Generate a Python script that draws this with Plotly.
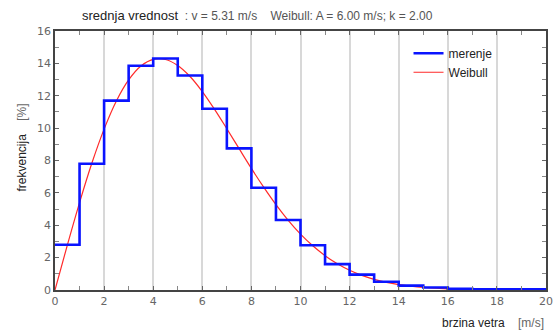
import plotly.graph_objects as go

# Measured histogram (bin edges 0..20 m/s, frequency %)
bin_edges = list(range(0, 21))
merenje = [2.8, 7.8, 11.7, 13.85, 14.3, 13.25, 11.2, 8.75, 6.32, 4.32,
           2.76, 1.6, 0.95, 0.51, 0.27, 0.15, 0.08, 0.04, 0.04, 0.04]

# Weibull curve
weibull_v = [0, 0.5, 1, 1.5, 2, 2.5, 3, 3.5, 4, 4.5, 5, 5.5, 6, 6.5, 7, 7.5,
             8, 8.5, 9, 9.5, 10, 10.5, 11, 11.5, 12, 12.5, 13, 13.5, 14, 14.5,
             15, 16, 17, 18, 19, 20]
weibull_f = [0, 2.76, 5.40, 7.83, 9.94, 11.68, 12.98, 13.84, 14.25, 14.24,
             13.87, 13.19, 12.26, 11.16, 9.96, 8.73, 7.51, 6.35, 5.27, 4.30,
             3.45, 2.73, 2.12, 1.62, 1.22, 0.905, 0.661, 0.474, 0.336, 0.234,
             0.161, 0.072, 0.031, 0.012, 0.005, 0.002]

x_ticks = list(range(0, 21, 2))
y_ticks = list(range(0, 17, 2))

fig = go.Figure()
fig.add_trace(go.Scatter(
    x=weibull_v, y=weibull_f, mode="lines", name="Weibull",
    line=dict(color="#ff2a2a", width=1.2, shape="spline"),
))
fig.add_trace(go.Scatter(
    x=bin_edges, y=merenje + [merenje[-1]], mode="lines", name="merenje",
    line=dict(color="#0a14ff", width=2.6, shape="hv"),
))

axis_common = dict(
    showline=True, linecolor="#444444", linewidth=1.5, mirror="ticks",
    ticks="inside", ticklen=4, tickcolor="#666666", tickwidth=1,
    tickfont=dict(family="DejaVu Sans", size=11, color="#666666"),
    zeroline=False,
)

fig.update_xaxes(
    range=[0, 20], tickvals=x_ticks, showgrid=True, gridcolor="#d8d8d8",
    gridwidth=1.5,
    minor=dict(dtick=1, ticks="inside", ticklen=4, tickcolor="#888888",
               showgrid=False),
    automargin=False,
    **axis_common,
)
fig.update_yaxes(
    range=[0, 16], tickvals=y_ticks, showgrid=False,
    minor=dict(dtick=1, ticks="inside", ticklen=4, tickcolor="#888888",
               showgrid=False),
    automargin=False,
    **axis_common,
)

fig.update_layout(
    width=554, height=330,
    margin=dict(l=55, r=8, t=31, b=40),
    paper_bgcolor="white", plot_bgcolor="white",
    showlegend=True,
    legend=dict(x=0.72, y=0.97, xanchor="left", yanchor="top",
                traceorder="reversed", bgcolor="rgba(0,0,0,0)",
                font=dict(family="Liberation Sans", size=12, color="#222222"),
                tracegroupgap=2),
    annotations=[
        dict(text="<span style='font-size:13px;color:#222'>srednja vrednost</span>"
                  "<span style='color:#555'>  : v = 5.31 m/s    Weibull: A = 6.00 m/s; k = 2.00</span>",
             xref="paper", yref="paper", x=0.05, y=1.0, yshift=16,
             xanchor="left", yanchor="middle", showarrow=False,
             font=dict(family="Liberation Sans", size=12, color="#555555")),
        dict(text="<span style='color:#222'>frekvencija</span>"
                  "<span style='color:#666'>    [%]</span>",
             xref="paper", yref="paper", x=0, xshift=-33, y=0.55,
             xanchor="center", yanchor="middle", textangle=-90, showarrow=False,
             font=dict(family="Liberation Sans", size=12, color="#222222")),
        dict(text="<span style='color:#222'>brzina vetra</span>"
                  "<span style='color:#666'>    [m/s]</span>",
             xref="paper", yref="paper", x=1, y=0, yshift=-33,
             xanchor="right", yanchor="middle", showarrow=False,
             font=dict(family="Liberation Sans", size=12, color="#222222")),
    ],
)

fig.write_html("out.html")
